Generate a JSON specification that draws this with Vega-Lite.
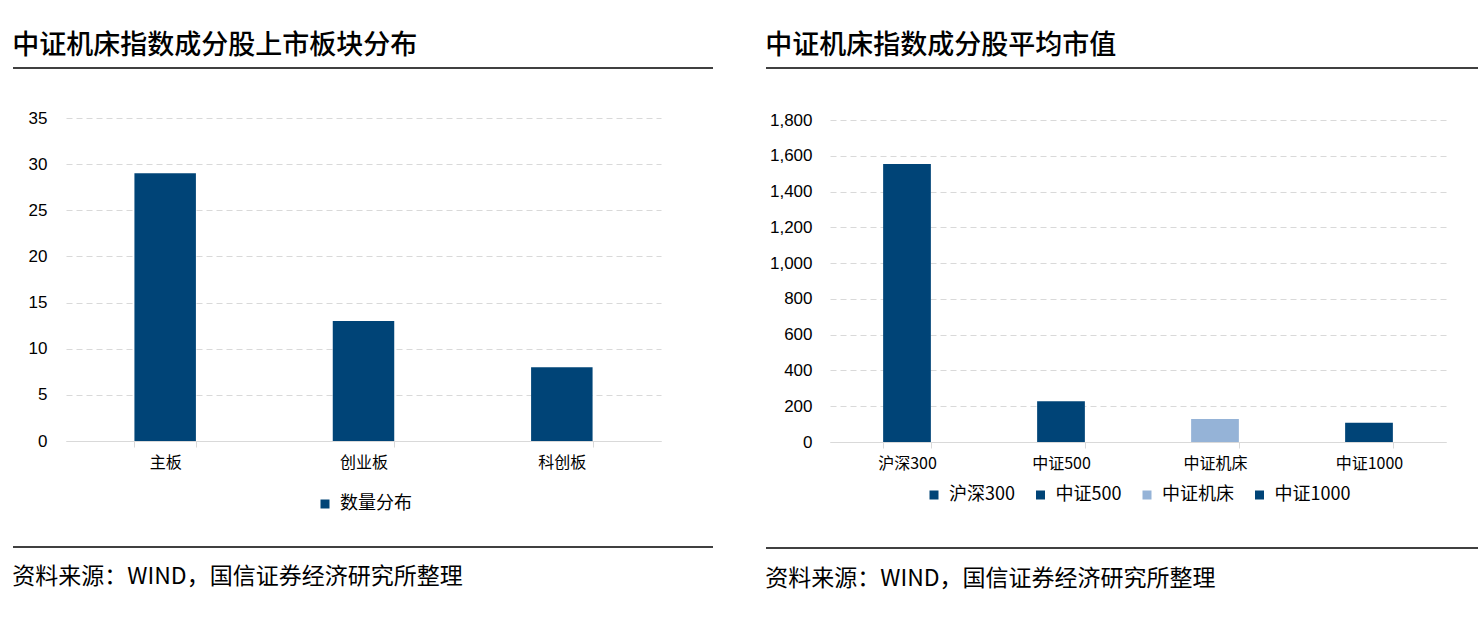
{
  "$schema": "https://vega.github.io/schema/vega-lite/v6.json",
  "background": "white",
  "padding": {"left": 12, "top": 32, "right": 0, "bottom": 10},
  "autosize": {"type": "pad"},
  "config": {
    "view": {"stroke": null},
    "font": "Noto Sans CJK SC",
    "legend": {"layout": {"bottom": {"anchor": "middle"}}}
  },
  "spacing": 51,
  "resolve": {"scale": {"x": "independent", "y": "independent", "color": "independent"}, "legend": {"color": "independent"}, "axis": {"x": "independent", "y": "independent"}},
  "hconcat": [
    {
      "spacing": 31,
      "resolve": {"scale": {"x": "independent", "y": "independent", "color": "independent"}, "legend": {"color": "independent"}, "axis": {"x": "independent", "y": "independent"}},
      "vconcat": [
        {
          "width": 647,
          "height": 20,
          "title": {"text": "中证机床指数成分股上市板块分布", "anchor": "start", "fontSize": 27, "font": "Noto Sans CJK SC", "fontWeight": 500, "color": "#000000", "offset": -2},
          "data": {"values": [{}]},
          "mark": {"type": "rule", "color": "#000000", "strokeWidth": 1.5},
          "encoding": {
            "x": {"datum": -0.0819, "type": "quantitative", "scale": {"domain": [0, 1], "zero": false, "nice": false}, "axis": null},
            "x2": {"datum": 1}
          }
        },
        {
          "width": 595,
          "height": 323,
          "data": {"values": [
            {"板块": "主板", "数量": 29, "系列": "数量分布"},
            {"板块": "创业板", "数量": 13, "系列": "数量分布"},
            {"板块": "科创板", "数量": 8, "系列": "数量分布"}
          ]},
          "mark": {"type": "bar"},
          "encoding": {
            "x": {"field": "板块", "type": "nominal", "sort": null,
              "scale": {"paddingInner": 0.69, "paddingOuter": 0.345},
              "axis": {"title": null, "labelAngle": 0, "labelFont": "Noto Sans CJK SC", "labelFontSize": 16, "labelColor": "#000000", "domainColor": "#D9D9D9", "tickColor": "#D9D9D9", "tickSize": 6, "tickBand": "extent", "labelPadding": 7, "grid": false}},
            "y": {"field": "数量", "type": "quantitative", "scale": {"domain": [0, 35]},
              "axis": {"title": null, "values": [0, 5, 10, 15, 20, 25, 30, 35], "domain": false, "ticks": false, "labelPadding": 19, "labelFont": "Liberation Sans", "labelFontSize": 17, "labelColor": "#000000", "gridColor": "#D9D9D9", "gridDash": [6, 4], "gridWidth": 1, "minExtent": 53}},
            "color": {"field": "系列", "type": "nominal", "scale": {"domain": ["数量分布"], "range": ["#004477"]},
              "legend": {"title": null, "orient": "bottom", "labelFontSize": 18, "labelFont": "Noto Sans CJK SC", "labelColor": "#000000", "symbolType": "square", "symbolSize": 81, "symbolStrokeWidth": 0, "labelOffset": 6, "offset": 25}}
          }
        },
        {
          "width": 647,
          "height": 6,
          "title": {"text": "资料来源：WIND，国信证券经济研究所整理", "orient": "bottom", "anchor": "start", "fontSize": 23, "font": "Noto Sans CJK SC", "fontWeight": "normal", "color": "#000000", "offset": 16},
          "data": {"values": [{}]},
          "mark": {"type": "rule", "color": "#000000", "strokeWidth": 1.5},
          "encoding": {
            "x": {"datum": -0.0819, "type": "quantitative", "scale": {"domain": [0, 1], "zero": false, "nice": false}, "axis": null},
            "x2": {"datum": 1}
          }
        }
      ]
    },
    {
      "spacing": 33,
      "resolve": {"scale": {"x": "independent", "y": "independent", "color": "independent"}, "legend": {"color": "independent"}, "axis": {"x": "independent", "y": "independent"}},
      "vconcat": [
        {
          "width": 648,
          "height": 20,
          "title": {"text": "中证机床指数成分股平均市值", "anchor": "start", "fontSize": 27, "font": "Noto Sans CJK SC", "fontWeight": 500, "color": "#000000", "offset": -2},
          "data": {"values": [{}]},
          "mark": {"type": "rule", "color": "#000000", "strokeWidth": 1.5},
          "encoding": {
            "x": {"datum": -0.0988, "type": "quantitative", "scale": {"domain": [0, 1], "zero": false, "nice": false}, "axis": null},
            "x2": {"datum": 1}
          }
        },
        {
          "width": 616,
          "height": 322,
          "data": {"values": [
            {"指数": "沪深300", "市值": 1554},
            {"指数": "中证500", "市值": 228},
            {"指数": "中证机床", "市值": 128},
            {"指数": "中证1000", "市值": 108}
          ]},
          "mark": {"type": "bar"},
          "encoding": {
            "x": {"field": "指数", "type": "nominal", "sort": null,
              "scale": {"paddingInner": 0.69, "paddingOuter": 0.345},
              "axis": {"title": null, "labelAngle": 0, "labelFont": "Noto Sans CJK SC", "labelFontSize": 16, "labelColor": "#000000", "domainColor": "#D9D9D9", "tickColor": "#D9D9D9", "tickSize": 6, "tickBand": "extent", "labelPadding": 7, "grid": false}},
            "y": {"field": "市值", "type": "quantitative", "scale": {"domain": [0, 1800]},
              "axis": {"title": null, "values": [0, 200, 400, 600, 800, 1000, 1200, 1400, 1600, 1800], "format": ",d", "domain": false, "ticks": false, "labelPadding": 18, "labelFont": "Liberation Sans", "labelFontSize": 17, "labelColor": "#000000", "gridColor": "#D9D9D9", "gridDash": [6, 4], "gridWidth": 1, "minExtent": 64}},
            "color": {"field": "指数", "type": "nominal", "sort": null,
              "scale": {"domain": ["沪深300", "中证500", "中证机床", "中证1000"], "range": ["#004477", "#004477", "#95B3D7", "#004477"]},
              "legend": {"title": null, "orient": "bottom", "direction": "horizontal", "labelFontSize": 18, "labelFont": "Noto Sans CJK SC", "labelColor": "#000000", "symbolType": "square", "symbolSize": 81, "symbolStrokeWidth": 0, "labelOffset": 6, "columnPadding": 16.5, "offset": 15}}
          }
        },
        {
          "width": 648,
          "height": 22,
          "title": {"text": "资料来源：WIND，国信证券经济研究所整理", "orient": "bottom", "anchor": "start", "fontSize": 23, "font": "Noto Sans CJK SC", "fontWeight": "normal", "color": "#000000", "offset": 9},
          "data": {"values": [{}]},
          "mark": {"type": "rule", "color": "#000000", "strokeWidth": 1.5},
          "encoding": {
            "x": {"datum": -0.0988, "type": "quantitative", "scale": {"domain": [0, 1], "zero": false, "nice": false}, "axis": null},
            "x2": {"datum": 1}
          }
        }
      ]
    }
  ]
}
